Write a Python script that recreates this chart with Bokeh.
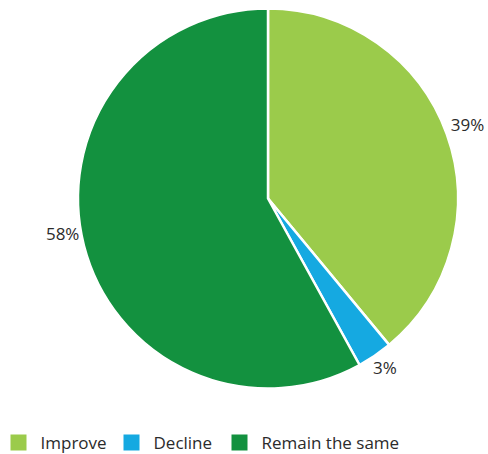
import numpy as np
from bokeh.plotting import figure
from bokeh.models import Range1d, ColumnDataSource
from bokeh.core.properties import value
from bokeh.embed import file_html
from bokeh.resources import INLINE

categories = ["Improve", "Decline", "Remain the same"]
values = [39, 3, 58]
colors = ["#9BCB4B", "#15A9E1", "#13913F"]
labels = ["39%", "3%", "58%"]

W, H = 488, 454
p = figure(width=W, height=H, output_backend="svg", toolbar_location=None,
           x_range=Range1d(0, W), y_range=Range1d(0, H), min_border=0)
p.axis.visible = False
p.grid.visible = False
p.outline_line_color = None

cx, cy, r = 267.5, H - 198, 190
frac = np.array(values) / sum(values)
cum = np.concatenate([[0], np.cumsum(frac)])
start = np.pi / 2 - 2 * np.pi * cum[:-1]
end = np.pi / 2 - 2 * np.pi * cum[1:]
src = ColumnDataSource(dict(start=start, end=end, color=colors))
p.wedge(x=cx, y=cy, radius=r, start_angle="start", end_angle="end", direction="clock",
        fill_color="color", line_color="white", line_width=2.5, source=src)

mid = 2 * np.pi * (cum[:-1] + cum[1:]) / 2
lr = np.array([212, 208, 212])
lx = cx + lr * np.sin(mid)
ly = cy + lr * np.cos(mid)
ly[0] += 2
ly[1] += 3
ly[2] += 18
p.text(x=lx, y=ly, text=labels, text_align="center", text_baseline="middle",
       text_font=value("Open Sans"), text_font_size="17px", text_color="#2b2b2b")

# legend
sq_x = [18, 131, 239]
tx = [40, 153, 261]
leg_y = H - 442
p.rect(x=sq_x, y=[leg_y] * 3, width=16, height=16, fill_color=colors, line_color=None)
p.text(x=tx, y=[leg_y] * 3, text=categories, text_align="left", text_baseline="middle",
       text_font=value("Open Sans"), text_font_size="17px", text_color="#2b2b2b")

open("out.html", "w").write(file_html(p, INLINE))
